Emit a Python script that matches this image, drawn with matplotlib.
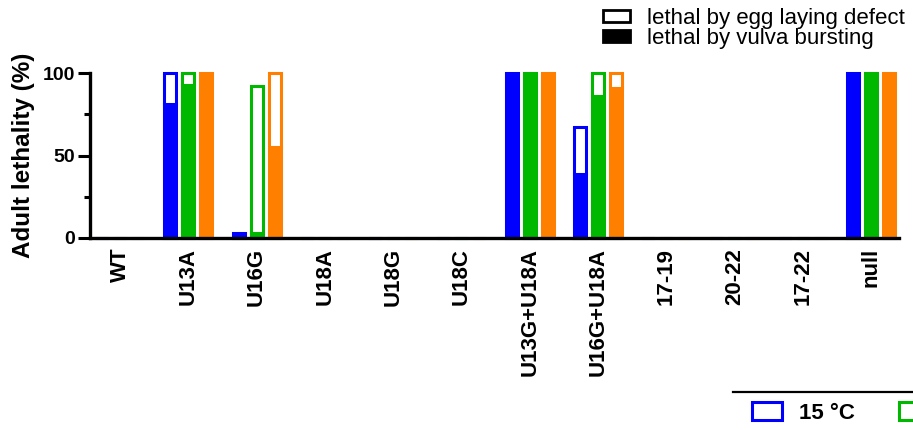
import matplotlib
matplotlib.use("Agg")
import matplotlib.pyplot as plt
import numpy as np
from matplotlib.patches import Patch
from matplotlib.lines import Line2D

plt.rcParams['font.family'] = ['Liberation Sans', 'DejaVu Sans']

# Genotypes on the x axis
genotypes = ["WT", "U13A", "U16G", "U18A", "U18G", "U18C",
             "U13G+U18A", "U16G+U18A", "17-19", "20-22", "17-22", "null"]

# Temperature series
temperatures = ["15 °C", "20 °C", "25 °C"]
colors = ["#0000FF", "#00B800", "#FF8000"]

# Adult lethality (%) split by cause: vulva bursting (filled) and egg-laying defect (open)
vulva_15 = [0, 81, 3, 0, 0, 0, 100, 39, 0, 0, 0, 100]
egg_15 = [0, 19, 0, 0, 0, 0, 0, 28, 0, 0, 0, 0]
vulva_20 = [0, 93, 3, 0, 0, 0, 100, 86, 0, 0, 0, 100]
egg_20 = [0, 7, 89, 0, 0, 0, 0, 14, 0, 0, 0, 0]
vulva_25 = [0, 100, 55, 0, 0, 0, 100, 91, 0, 0, 0, 100]
egg_25 = [0, 0, 45, 0, 0, 0, 0, 9, 0, 0, 0, 0]

vulva = [vulva_15, vulva_20, vulva_25]
egg = [egg_15, egg_20, egg_25]

fig = plt.figure(figsize=(9.13, 4.30), dpi=100)
ax = fig.add_axes([90 / 913, 192 / 430, 809 / 913, 165 / 430])

x = np.arange(len(genotypes))
offset = 0.264
width = 0.176
lw = 2.2

for i, (col, v, e) in enumerate(zip(colors, vulva, egg)):
    xi = x + (i - 1) * offset
    v = np.array(v, dtype=float)
    e = np.array(e, dtype=float)
    ax.bar(xi, v, width=width, color=col, edgecolor=col, linewidth=lw,
           clip_on=False, zorder=1)
    mask = e > 0
    ax.bar(xi[mask], e[mask], bottom=v[mask], width=width, facecolor="white",
           edgecolor=col, linewidth=lw, clip_on=False, zorder=1.1)

ax.set_xlim(-0.44, 11.41)
ax.set_ylim(0, 100)
ax.set_yticks([0, 50, 100])
ax.set_yticks([25, 75], minor=True)
ax.set_xticks(x)
ax.set_xticklabels(genotypes, rotation=90, fontsize=16, fontweight="bold")
ax.tick_params(axis="x", length=0, pad=7)
ax.tick_params(axis="y", which="major", length=9, width=2.2, labelsize=14, pad=2)
ax.tick_params(axis="y", which="minor", length=4, width=2.2)
for lab in ax.get_yticklabels():
    lab.set_fontweight("bold")
ax.set_ylabel("Adult lethality (%)", fontsize=17.5, fontweight="bold", labelpad=5)

for s in ["top", "right"]:
    ax.spines[s].set_visible(False)
for s in ["left", "bottom"]:
    ax.spines[s].set_linewidth(2.4)
    ax.spines[s].set_zorder(3)

# Cause-of-death key
cause_handles = [
    Patch(facecolor="white", edgecolor="black", linewidth=2.0),
    Patch(facecolor="black", edgecolor="black", linewidth=2.0),
]
fig.legend(cause_handles, ["lethal by egg laying defect", "lethal by vulva bursting"],
           loc="upper left", bbox_to_anchor=(603 / 913, 1 - 8 / 430),
           frameon=False, fontsize=16, handlelength=1.2, handleheight=0.45,
           handletextpad=0.8, labelspacing=-0.05, borderpad=0, borderaxespad=0)

# Temperature key
temp_handles = [Patch(facecolor="white", edgecolor=c, linewidth=2.2) for c in colors]
fig.legend(temp_handles, temperatures, loc="upper left",
           bbox_to_anchor=(752 / 913, 1 - 402 / 430), ncol=3, frameon=False,
           prop={"size": 16, "weight": "bold"}, handlelength=1.35,
           handleheight=0.85, handletextpad=0.75, columnspacing=2.0,
           borderpad=0, borderaxespad=0)
fig.add_artist(Line2D([733 / 913, 1.0], [1 - 392 / 430] * 2,
                      transform=fig.transFigure, color="black", linewidth=1.6))

fig.savefig("out.png", dpi=100)
